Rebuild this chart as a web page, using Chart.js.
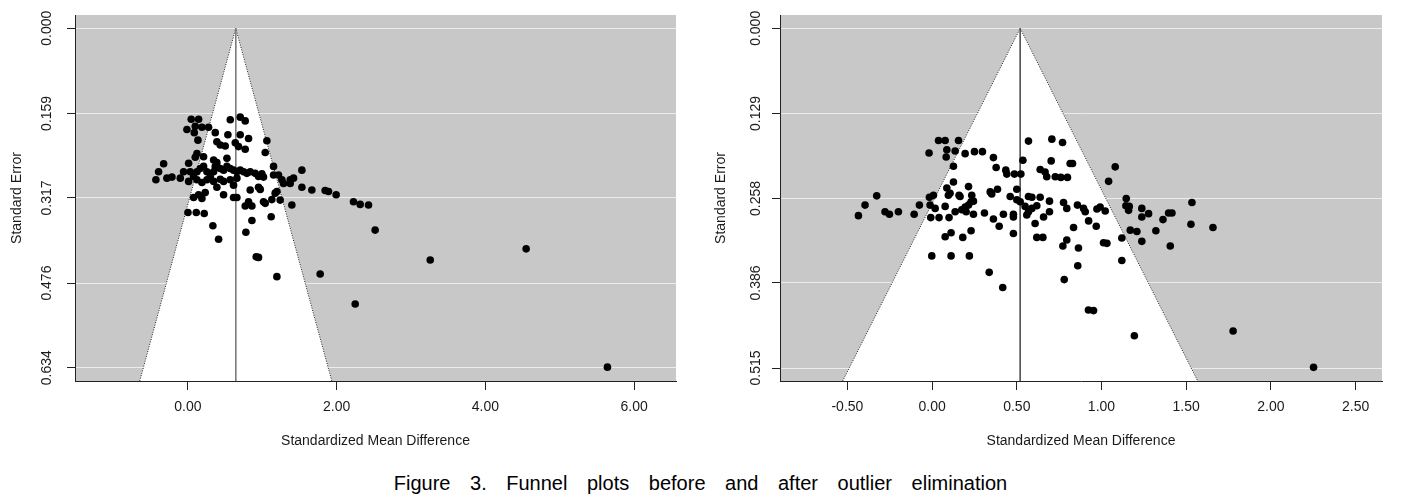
<!DOCTYPE html>
<html>
<head>
<meta charset="utf-8">
<script src="https://cdn.jsdelivr.net/npm/chart.js@4.4.1/dist/chart.umd.min.js"></script>
<style>
  body { margin: 0; background: #fff; width: 1401px; height: 503px; position: relative; overflow: hidden; }
  #before { position: absolute; left: 0; top: 0; }
  #after { position: absolute; left: 700px; top: 0; }
  #caption {
    position: absolute; left: 0; top: 471px; width: 1401px; text-align: center;
    font-family: 'Liberation Sans', Arial, sans-serif;
    font-size: 20px; line-height: 24px; word-spacing: 14px; color: #000;
  }
</style>
</head>
<body>
<canvas id="before" width="700" height="460"></canvas>
<canvas id="after" width="701" height="460"></canvas>
<div id="caption">Figure 3. Funnel plots before and after outlier elimination</div>
<script>
// before outlier elimination
var beforeSmd = [0.044, 0.143, 0.569, 0.703, 0.770, -0.014, 0.098, 0.188, 0.277, 0.085,
  0.367, 0.537, 0.703, 0.815, 0.134, 0.389, 0.434, 0.501, 0.636, 0.680,
  0.770, 1.061, 1.039, 0.121, 0.098, 0.210, 0.345, 0.524, 0.389, -0.327,
  -0.395, -0.431, -0.283, -0.215, -0.103, -0.059, 0.009, 0.031, 0.076, 0.121,
  0.165, 0.210, 0.255, 0.300, 0.345, 0.367, 0.434, 0.479, 0.524, 0.568,
  0.613, 0.658, 0.703, 0.748, 0.792, 0.837, 0.904, 0.949, 0.994, 1.016,
  1.151, 1.151, 1.218, 1.263, 1.285, 1.375, 1.420, 1.532, 1.532, 1.666,
  1.845, 1.890, 1.993, 2.226, 2.316, 2.428, 2.517, 1.375, 0.009, 0.121,
  0.188, 0.255, 0.345, 0.434, 0.479, 0.568, 0.613, 0.658, 0.389, 0.837,
  0.949, 0.972, 1.196, 1.240, 1.173, 0.076, 0.143, 0.188, 0.232, 0.479,
  0.613, 0.658, 0.815, 0.770, 0.860, 1.016, 1.039, 1.128, 1.397, 0.000,
  0.112, 0.219, 1.119, 0.860, 0.335, 0.412, 0.779, 0.918, 0.949, 1.196,
  1.778, 2.249, 3.258, 4.548, 5.641];
var beforeSe = [0.170, 0.170, 0.171, 0.166, 0.173, 0.189, 0.183, 0.185, 0.185, 0.195,
  0.195, 0.199, 0.199, 0.206, 0.209, 0.212, 0.218, 0.220, 0.214, 0.221,
  0.226, 0.210, 0.232, 0.234, 0.241, 0.240, 0.246, 0.243, 0.251, 0.253,
  0.268, 0.283, 0.280, 0.278, 0.280, 0.268, 0.252, 0.268, 0.277, 0.268,
  0.262, 0.258, 0.268, 0.277, 0.268, 0.258, 0.262, 0.265, 0.258, 0.262,
  0.265, 0.268, 0.265, 0.268, 0.271, 0.268, 0.271, 0.277, 0.272, 0.278,
  0.258, 0.274, 0.274, 0.283, 0.290, 0.283, 0.280, 0.265, 0.297, 0.302,
  0.303, 0.305, 0.311, 0.324, 0.329, 0.330, 0.377, 0.290, 0.286, 0.283,
  0.288, 0.283, 0.286, 0.282, 0.286, 0.283, 0.293, 0.280, 0.297, 0.302,
  0.297, 0.301, 0.305, 0.321, 0.308, 0.316, 0.311, 0.318, 0.307, 0.311,
  0.316, 0.316, 0.324, 0.332, 0.332, 0.324, 0.327, 0.320, 0.330, 0.344,
  0.344, 0.346, 0.352, 0.359, 0.369, 0.394, 0.381, 0.427, 0.428, 0.464,
  0.459, 0.515, 0.433, 0.412, 0.633];
var beforeMean = 0.643;
var beforeXTicks = [0, 2, 4, 6];
var beforeYTicks = [0.000, 0.159, 0.317, 0.476, 0.634];

// after outlier elimination
var afterSmd = [0.038, 0.077, 0.156, -0.018, 0.087, 0.136, 0.083, 0.195, 0.250, 0.297,
  0.126, 0.362, 0.378, 0.435, 0.441, 0.486, 0.524, 0.536, 0.569, 0.707,
  0.770, 0.703, 0.638, 0.667, 0.677, 0.727, 0.760, 0.799, 0.815, 0.829,
  0.126, 0.087, 0.096, 0.106, 0.215, 0.159, 0.165, 0.234, 0.230, 0.244,
  0.215, 0.343, 0.352, 0.386, 0.500, 0.461, 0.500, 0.520, 0.569, 0.589,
  0.638, 0.618, 0.693, 0.776, 0.795, 0.858, 0.894, 0.904, 0.973, 0.992,
  1.022, -0.327, -0.396, -0.435, -0.278, -0.252, -0.199, -0.106, -0.075, -0.016,
  0.008, -0.012, 0.018, 0.077, 0.136, 0.175, 0.195, 0.201, 0.244, 0.309,
  -0.008, 0.041, 0.100, 0.362, 0.396, 0.421, 0.480, 0.480, 0.559, 0.569,
  0.589, 0.549, 0.658, 0.693, 0.608, 0.480, 0.077, 0.112, 0.181, 0.230,
  0.618, 0.654, 0.772, 0.795, 0.835, 0.924, 0.969, 0.864, 1.012, 1.032,
  -0.002, 0.112, 0.220, 0.337, 0.417, 0.860, 0.780, 1.081, 1.042, 1.146,
  1.144, 1.164, 1.160, 1.238, 1.238, 1.278, 1.363, 1.396, 1.416, 1.534,
  1.528, 1.658, 1.170, 1.209, 1.321, 1.238, 1.406, 1.120, 1.120, 0.923,
  0.953, 1.194, 1.777, 2.252];
var afterSe = [0.170, 0.170, 0.170, 0.189, 0.184, 0.186, 0.195, 0.190, 0.187, 0.187,
  0.209, 0.196, 0.211, 0.215, 0.221, 0.221, 0.221, 0.200, 0.171, 0.168,
  0.173, 0.201, 0.214, 0.218, 0.225, 0.225, 0.226, 0.226, 0.205, 0.205,
  0.233, 0.242, 0.253, 0.250, 0.240, 0.253, 0.255, 0.253, 0.263, 0.262,
  0.268, 0.248, 0.251, 0.244, 0.244, 0.255, 0.260, 0.263, 0.255, 0.256,
  0.256, 0.269, 0.262, 0.264, 0.273, 0.268, 0.273, 0.278, 0.274, 0.271,
  0.277, 0.254, 0.268, 0.284, 0.278, 0.282, 0.278, 0.282, 0.268, 0.256,
  0.253, 0.268, 0.273, 0.270, 0.278, 0.275, 0.271, 0.278, 0.282, 0.280,
  0.287, 0.287, 0.287, 0.289, 0.300, 0.282, 0.282, 0.286, 0.283, 0.278,
  0.273, 0.270, 0.286, 0.278, 0.296, 0.311, 0.316, 0.310, 0.317, 0.307,
  0.317, 0.317, 0.330, 0.321, 0.302, 0.292, 0.300, 0.333, 0.325, 0.326,
  0.345, 0.345, 0.345, 0.370, 0.393, 0.360, 0.381, 0.210, 0.232, 0.258,
  0.269, 0.270, 0.276, 0.273, 0.286, 0.281, 0.290, 0.280, 0.280, 0.264,
  0.297, 0.302, 0.306, 0.308, 0.307, 0.323, 0.330, 0.318, 0.352, 0.427,
  0.428, 0.466, 0.459, 0.514];
var afterMean = 0.520;
var afterXTicks = [-0.5, 0, 0.5, 1, 1.5, 2, 2.5];
var afterYTicks = [0.000, 0.129, 0.258, 0.386, 0.515];

var FONT = "'Liberation Sans', Arial, sans-serif";
var INK = '#1a1a1a';

// grey panel behind the plot
var panelBg = {
  id: 'panelBg',
  beforeDraw: function (chart) {
    var a = chart.chartArea, ctx = chart.ctx;
    ctx.save();
    ctx.fillStyle = '#c8c8c8';
    ctx.fillRect(a.left, a.top, a.right - a.left, a.bottom - a.top);
    ctx.restore();
  }
};

// R style rotated y tick labels
var yLabels = {
  id: 'yLabels',
  afterDraw: function (chart, args, opts) {
    var s = chart.scales.y, ctx = chart.ctx;
    ctx.save();
    ctx.font = '14px ' + FONT;
    ctx.fillStyle = INK;
    ctx.textAlign = 'center';
    ctx.textBaseline = 'middle';
    s.ticks.forEach(function (t) {
      ctx.save();
      ctx.translate(opts.x, s.getPixelForValue(t.value));
      ctx.rotate(-Math.PI / 2);
      ctx.fillText(t.value.toFixed(3), 0, 0);
      ctx.restore();
    });
    ctx.restore();
  }
};

function funnel(id, smd, se, mean, xTicks, yTicks, lim, look) {
  var pts = smd.map(function (v, i) { return { x: v, y: se[i] }; });
  var seMax = lim.yMax;
  var edge = [
    { x: mean - 1.96 * seMax, y: seMax },
    { x: mean, y: 0 },
    { x: mean + 1.96 * seMax, y: seMax }
  ];
  return new Chart(document.getElementById(id), {
    type: 'scatter',
    data: {
      datasets: [{
        data: pts,
        backgroundColor: '#000',
        borderColor: '#000',
        borderWidth: 0,
        pointRadius: 3.8,
        pointHoverRadius: 3.8
      }, {
        type: 'line',
        data: [{ x: mean, y: 0 }, { x: mean, y: seMax }],
        borderColor: look.meanColor,
        borderWidth: 1,
        pointRadius: 0,
        fill: false
      }, {
        type: 'line',
        data: edge,
        borderColor: '#222',
        borderWidth: 1,
        borderDash: [1, 1.5],
        backgroundColor: '#fff',
        fill: { value: seMax },
        pointRadius: 0,
        tension: 0
      }]
    },
    options: {
      responsive: false,
      animation: false,
      devicePixelRatio: 1,
      layout: { padding: { top: 15, right: look.padRight, left: 0, bottom: 0 } },
      plugins: {
        legend: { display: false },
        tooltip: { enabled: false },
        yLabels: { x: look.labelX }
      },
      scales: {
        x: {
          type: 'linear',
          min: lim.xMin,
          max: lim.xMax,
          z: 1,
          afterBuildTicks: function (s) { s.ticks = xTicks.map(function (v) { return { value: v }; }); },
          afterFit: function (s) { s.height = 79; },
          grid: { drawOnChartArea: false, drawTicks: true, tickLength: 9, tickColor: '#222' },
          border: { display: true, color: '#222', width: 1 },
          ticks: {
            padding: 9, color: INK, maxRotation: 0, autoSkip: false,
            font: { family: FONT, size: 14 },
            callback: function (v) { return Number(v).toFixed(2); }
          },
          title: {
            display: true, text: 'Standardized Mean Difference', color: INK,
            font: { family: FONT, size: 14 }, padding: { top: 0, bottom: 10 }
          }
        },
        y: {
          type: 'linear',
          reverse: true,
          min: lim.yMin,
          max: lim.yMax,
          afterBuildTicks: function (s) { s.ticks = yTicks.map(function (v) { return { value: v }; }); },
          afterFit: function (s) { s.width = look.axisLeft; },
          grid: { color: '#ececec', lineWidth: 1, drawTicks: true, tickLength: 8, tickColor: '#222' },
          border: { display: true, color: '#222', width: 1 },
          ticks: { display: false },
          title: {
            display: true, text: 'Standard Error', color: INK,
            font: { family: FONT, size: 14 }, padding: { top: look.titlePad, bottom: 0 }
          }
        }
      }
    },
    plugins: [panelBg, yLabels]
  });
}

funnel('before', beforeSmd, beforeSe, beforeMean, beforeXTicks, beforeYTicks,
  { xMin: -1.519, xMax: 6.563, yMin: -0.0248, yMax: 0.6589 },
  { padRight: 24, axisLeft: 75, labelX: 47, titlePad: 8.3, meanColor: '#7a7a7a' });

funnel('after', afterSmd, afterSe, afterMean, afterXTicks, afterYTicks,
  { xMin: -0.898, xMax: 2.656, yMin: -0.0202, yMax: 0.5347 },
  { padRight: 19, axisLeft: 80, labelX: 56, titlePad: 12.3, meanColor: '#555' });
</script>
</body>
</html>
